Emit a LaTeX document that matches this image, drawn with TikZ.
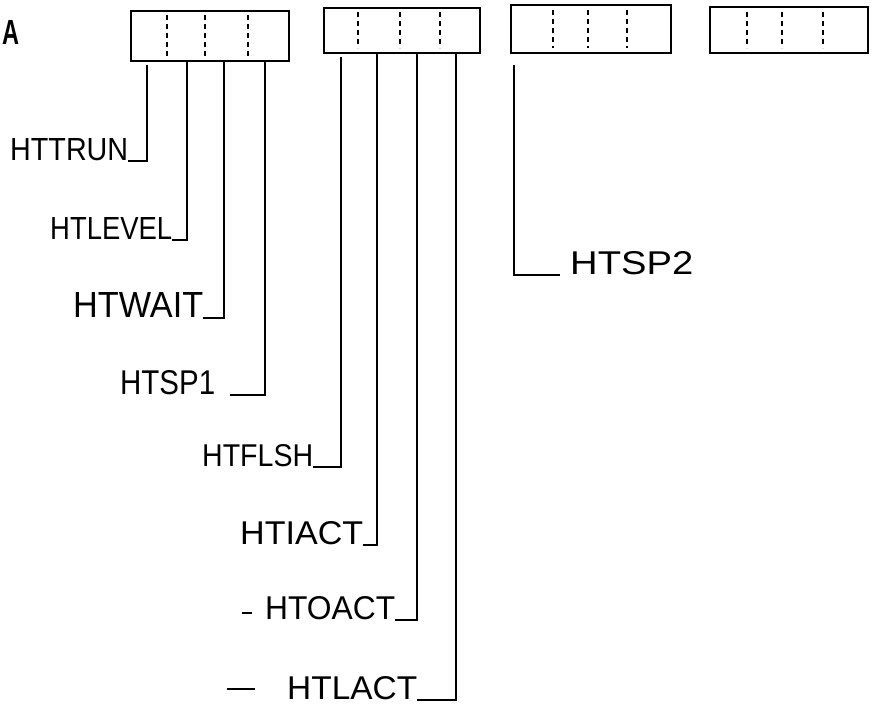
\documentclass[tikz,border=0pt]{standalone}
\usepackage{fontspec}
\setmainfont{Liberation Sans}
\usepackage{graphicx}
\newcommand{\hwtext}[3]{\resizebox{#1pt}{#2pt}{#3}}
\begin{document}
\begin{tikzpicture}[x=1pt,y=-1pt,
  reg/.style={draw, line width=2pt, anchor=north west, inner sep=0pt},
  div/.style={line width=2pt, dash pattern=on 5pt off 4pt},
  wire/.style={line width=2pt},
  lbl/.style={anchor=south west, inner sep=0pt}]
\fill[white] (0,0) rectangle (872,706);
\useasboundingbox (0,0) rectangle (872,706);

% title letter
\node[lbl] (A) at (2,45) {\hwtext{17}{24}{\bfseries A}};

% registers
\node[reg, minimum width=158pt, minimum height=50pt] (b1) at (130,10) {};
\node[reg, minimum width=156pt, minimum height=45pt] (b2) at (323,7) {};
\node[reg, minimum width=160pt, minimum height=48pt] (b3) at (510,4) {};
\node[reg, minimum width=158pt, minimum height=46pt] (b4) at (709,6) {};

% field dividers
\foreach \x in {167,205,248} \draw[div] (\x,15) -- (\x,56);
\foreach \x in {358,400,440} \draw[div] (\x,12) -- (\x,48);
\foreach \x in {553,588,627} \draw[div] (\x,10) -- (\x,48);
\foreach \x in {747,782,823} \draw[div] (\x,12) -- (\x,48);

% tap points
\coordinate (t11) at (147,65);
\coordinate (t12) at (187,60);
\coordinate (t13) at (224,60);
\coordinate (t14) at (265,60);
\coordinate (t21) at (341,57);
\coordinate (t22) at (377,52);
\coordinate (t23) at (417,53);
\coordinate (t24) at (456,52);
\coordinate (t31) at (514,65);

% labels
\node[lbl] (httrun)  at (10,161)  {\hwtext{118}{22}{HTTRUN}};
\node[lbl] (htlevel) at (50,240)  {\hwtext{122}{22}{HTLEVEL}};
\node[lbl] (htwait)  at (73,318)  {\hwtext{130}{25}{HTWAIT}};
\node[lbl] (htsp1)   at (120,395) {\hwtext{95}{24}{HTSP1}};
\node[lbl] (htflsh)  at (202,467) {\hwtext{111}{22}{HTFLSH}};
\node[lbl] (htiact)  at (240,545) {\hwtext{123}{23}{HTIACT}};
\node[lbl] (htoact)  at (265,620) {\hwtext{130}{23}{HTOACT}};
\node[lbl] (htlact)  at (287,700) {\hwtext{130}{23}{HTLACT}};
\node[lbl] (htsp2)   at (570,275) {\hwtext{123}{23}{HTSP2}};

% dashes before labels
\node[lbl] (d1) at (242,614) {\rule{10pt}{2pt}};
\node[lbl] (d2) at (227,690) {\rule{28pt}{2pt}};

% connectors
\draw[wire] (t11) |- (httrun.south east);
\draw[wire] (t12) |- (htlevel.south east);
\draw[wire] (t13) |- (htwait.south east);
\draw[wire, shorten >=15pt] (t14) |- (htsp1.south east);
\draw[wire] (t21) |- (htflsh.south east);
\draw[wire] (t22) |- (htiact.south east);
\draw[wire] (t23) |- (htoact.south east);
\draw[wire] (t24) |- (htlact.south east);
\draw[wire, shorten >=10pt] (t31) |- (htsp2.south west);
\end{tikzpicture}
\end{document}
